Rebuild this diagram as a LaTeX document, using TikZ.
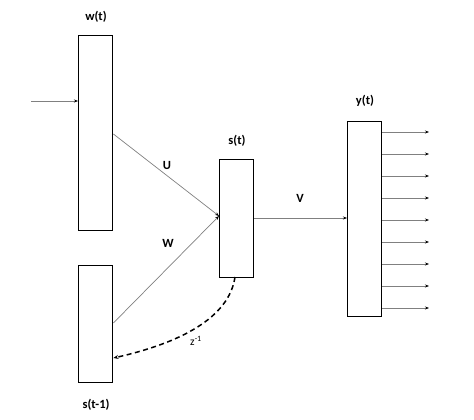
\documentclass[tikz,border=0pt]{standalone}
\usepackage{fontspec}
\setmainfont{Carlito}
\usetikzlibrary{arrows.meta,calc}
\begin{document}
\begin{tikzpicture}[x=1pt,y=-1pt,
  layer/.style={draw=black,line width=1.4pt,fill=white,inner sep=0pt,minimum width=34pt,anchor=north west},
  lbl/.style={font=\fontsize{12.5}{14}\selectfont\bfseries,inner sep=0pt},
  conn/.style={draw=black!50,line width=0.7pt,-{Stealth[length=4pt,width=3pt,color=black]}},
  rec/.style={draw=black,line width=1.5pt,dash pattern=on 5pt off 3.5pt,-{Stealth[length=5pt,width=4pt]}}]
\useasboundingbox (0,0) rectangle (474,420);
\node[layer,minimum height=195pt] (w) at (78,35) {};
\node[layer,minimum height=117pt] (sp) at (78,265) {};
\node[layer,minimum height=118pt] (s) at (219,159) {};
\node[layer,minimum height=195pt] (y) at (347,121) {};
\node[lbl] (wl) at (96,17) {w(t)};
\node[lbl] (spl) at (96,405) {s(t-1)};
\node[lbl] (sl) at (237,141) {s(t)};
\node[lbl] (yl) at (365,101) {y(t)};
\node[lbl] (U) at (167,165) {U};
\node[lbl] (W) at (168,243) {W};
\node[lbl] (V) at (300,198) {V};
\node[font=\fontsize{11.5}{13}\selectfont,inner sep=0pt] (z) at (196,341) {z\textsuperscript{-1}};
\coordinate (inp) at (31,101);
\draw[conn] (inp) -- (inp -| w.west);
\draw[conn] (w.east |- 0,134) -- (s.west |- 0,216);
\draw[conn] (sp.east |- 0,323) -- (s.west |- 0,216);
\draw[conn] (s.east |- 0,218) -- (y.west |- 0,218);
\foreach \i in {0,...,8}{
  \coordinate (o\i) at (429,{132+22*\i});
  \draw[conn] (y.east |- o\i) -- (o\i);
}
\coordinate (rs) at (235,277);
\draw[rec] (rs) .. controls (229,318) and (180,343) .. (sp.east |- 0,358);
\end{tikzpicture}
\end{document}
